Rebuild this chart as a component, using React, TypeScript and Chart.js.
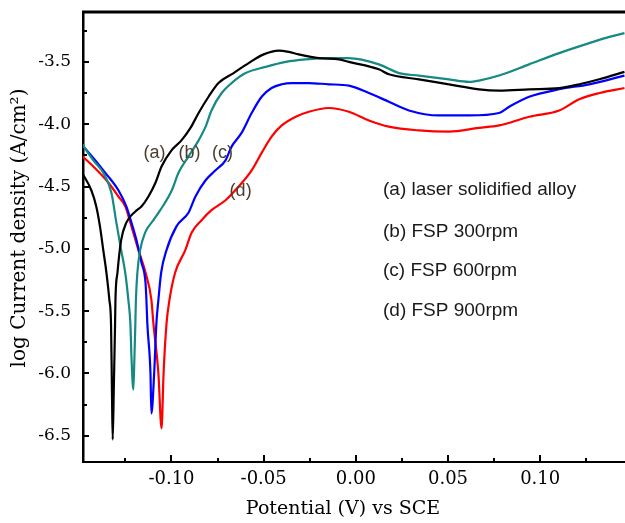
import { useEffect, useRef } from "react";
import { Chart, registerables } from "chart.js";

Chart.register(...registerables);

// (a) laser solidified alloy
const potA = [-0.1489, -0.1435, -0.1408, -0.1388, -0.137, -0.1353, -0.1337, -0.1328, -0.1323, -0.1319, -0.1313, -0.1306, -0.1304, -0.1293, -0.1273, -0.1245, -0.1196, -0.1163, -0.1125, -0.1087, -0.1054, -0.1, -0.0946, -0.0897, -0.0853, -0.0799, -0.0745, -0.0663, -0.0582, -0.05, -0.0418, -0.0364, -0.031, -0.0201, -0.0092, -0.0038, 0.0125, 0.0179, 0.0342, 0.0505, 0.0668, 0.0777, 0.094, 0.1103, 0.1212, 0.1321, 0.1457];
const curA = [-4.38, -4.53, -4.66, -4.82, -5.01, -5.19, -5.41, -5.6, -6.13, -6.53, -6.13, -5.6, -5.41, -5.19, -4.93, -4.79, -4.7, -4.66, -4.58, -4.47, -4.34, -4.21, -4.13, -4.03, -3.91, -3.78, -3.67, -3.59, -3.51, -3.44, -3.41, -3.42, -3.44, -3.47, -3.48, -3.5, -3.56, -3.6, -3.64, -3.68, -3.72, -3.73, -3.72, -3.71, -3.68, -3.64, -3.58];

// (b) FSP 300rpm
const potB = [-0.1489, -0.1424, -0.137, -0.1326, -0.1299, -0.1273, -0.1251, -0.1234, -0.1223, -0.1217, -0.1207, -0.1201, -0.1196, -0.1193, -0.1185, -0.117, -0.1143, -0.1098, -0.1061, -0.0998, -0.0962, -0.0908, -0.0853, -0.0815, -0.0783, -0.0728, -0.0674, -0.0598, -0.0489, -0.038, -0.0272, -0.0147, -0.0038, 0.0125, 0.0234, 0.0342, 0.0505, 0.0614, 0.0668, 0.0777, 0.094, 0.1103, 0.1266, 0.1375, 0.1457];
const curB = [-4.15, -4.29, -4.39, -4.55, -4.79, -5.01, -5.19, -5.41, -5.6, -5.87, -6.13, -5.87, -5.6, -5.41, -5.19, -5.01, -4.87, -4.77, -4.69, -4.53, -4.39, -4.26, -4.13, -4.02, -3.89, -3.75, -3.67, -3.59, -3.54, -3.5, -3.48, -3.47, -3.47, -3.52, -3.59, -3.61, -3.64, -3.66, -3.65, -3.61, -3.52, -3.43, -3.35, -3.3, -3.27];

// (c) FSP 600rpm
const potC = [-0.1495, -0.1413, -0.1359, -0.1288, -0.1245, -0.1217, -0.119, -0.1163, -0.1141, -0.1136, -0.1131, -0.1114, -0.1109, -0.1094, -0.1082, -0.1071, -0.1056, -0.1027, -0.0973, -0.0908, -0.087, -0.0815, -0.0761, -0.0707, -0.0674, -0.062, -0.0565, -0.0511, -0.0457, -0.0402, -0.0348, -0.0255, -0.0147, -0.0038, 0.0071, 0.0179, 0.0288, 0.0451, 0.0614, 0.0777, 0.0832, 0.094, 0.1103, 0.1266, 0.1457];
const curC = [-4.15, -4.29, -4.39, -4.53, -4.66, -4.79, -4.93, -5.11, -5.27, -5.41, -5.6, -6.0, -6.32, -6.0, -5.6, -5.41, -5.19, -5.01, -4.82, -4.71, -4.58, -4.45, -4.37, -4.29, -4.18, -4.07, -3.91, -3.78, -3.71, -3.68, -3.67, -3.67, -3.68, -3.69, -3.75, -3.82, -3.89, -3.93, -3.93, -3.91, -3.86, -3.78, -3.72, -3.68, -3.61];

// (d) FSP 900rpm
const potD = [-0.1489, -0.1424, -0.1342, -0.1288, -0.125, -0.1223, -0.1179, -0.1141, -0.1109, -0.1098, -0.1071, -0.1054, -0.1043, -0.1027, -0.1011, -0.098, -0.0925, -0.0891, -0.0837, -0.0783, -0.0707, -0.0636, -0.0565, -0.0511, -0.0457, -0.0402, -0.0326, -0.0255, -0.0147, -0.0038, 0.0071, 0.0179, 0.0342, 0.0505, 0.0668, 0.0777, 0.094, 0.1103, 0.1212, 0.1321, 0.1457];
const curD = [-4.25, -4.34, -4.47, -4.58, -4.66, -4.79, -5.01, -5.19, -5.41, -5.6, -6.0, -6.44, -6.0, -5.6, -5.41, -5.19, -5.01, -4.87, -4.77, -4.69, -4.61, -4.5, -4.37, -4.23, -4.1, -4.01, -3.94, -3.9, -3.87, -3.9, -3.97, -4.02, -4.05, -4.06, -4.03, -4.01, -3.94, -3.89, -3.8, -3.75, -3.71];

const seriesNames = ["(a) laser solidified alloy", "(b) FSP 300rpm", "(c) FSP 600rpm", "(d) FSP 900rpm"];
const seriesColors = ["#000000", "#158a82", "#0000ff", "#ff0000"];

// curve tags placed in data coordinates
const tagText = ["(a)", "(b)", "(c)", "(d)"];
const tagPot = [-0.1092, -0.0902, -0.0723, -0.0625];
const tagCur = [-4.23, -4.23, -4.23, -4.54];

const xMin = -0.148;
const xMax = 0.146;
const yMin = -6.71;
const yMax = -3.1;
const xTitle = "Potential (V) vs SCE";
const yTitle = "log Current density (A/cm\u00B2)";

const toXY = (xs: number[], ys: number[]) => xs.map((v, i) => ({ x: v, y: ys[i] }));

const overlayPlugin = {
  id: "overlay",
  afterDraw(chart: any) {
    const { ctx, chartArea: ca } = chart;
    const xs = chart.scales.x;
    const ys = chart.scales.y;
    ctx.save();
    // top frame line
    ctx.strokeStyle = "#000";
    ctx.lineWidth = 3;
    ctx.beginPath();
    ctx.moveTo(ca.left - 1, ca.top);
    ctx.lineTo(ca.right, ca.top);
    ctx.stroke();

    // inward ticks
    ctx.lineWidth = 2;
    const xStep = 0.05;
    const yStep = 0.5;
    const xt = xs.ticks.map((t: any) => t.value);
    const yt = ys.ticks.map((t: any) => t.value);
    const drawX = (v: number, len: number) => {
      if (v < xMin || v > xMax) return;
      const p = Math.round(xs.getPixelForValue(v));
      ctx.beginPath();
      ctx.moveTo(p, ca.bottom);
      ctx.lineTo(p, ca.bottom - len);
      ctx.stroke();
    };
    const drawY = (v: number, len: number) => {
      if (v < yMin || v > yMax) return;
      const p = Math.round(ys.getPixelForValue(v));
      ctx.beginPath();
      ctx.moveTo(ca.left, p);
      ctx.lineTo(ca.left + len, p);
      ctx.stroke();
    };
    xt.forEach((v: number) => {
      drawX(v, 7);
      drawX(v - xStep / 2, 4);
    });
    if (xt.length) drawX(xt[xt.length - 1] + xStep / 2, 4);
    yt.forEach((v: number) => {
      drawY(v, 6);
      drawY(v - yStep / 2, 4);
    });
    if (yt.length) drawY(yt[yt.length - 1] + yStep / 2, 4);

    // axis titles
    ctx.fillStyle = "#000";
    ctx.textAlign = "center";
    ctx.textBaseline = "middle";
    ctx.font = "19px 'DejaVu Serif'";
    ctx.fillText(xTitle, 343, 509);
    ctx.save();
    ctx.translate(20, 228);
    ctx.rotate(-Math.PI / 2);
    ctx.font = "20px 'DejaVu Serif'";
    ctx.fillText(yTitle, 0, 0);
    ctx.restore();

    // curve tags
    ctx.font = "18px 'Liberation Sans'";
    ctx.fillStyle = "#4a3e2e";
    tagText.forEach((t, i) => {
      ctx.fillText(t, xs.getPixelForValue(tagPot[i]), ys.getPixelForValue(tagCur[i]));
    });

    // text legend
    ctx.font = "19px 'Liberation Sans'";
    ctx.fillStyle = "#1a1a1a";
    ctx.textAlign = "left";
    const legendTop = [190, 232, 271, 311];
    seriesNames.forEach((n, i) => {
      ctx.fillText(n, 383, legendTop[i]);
    });
    ctx.restore();
  },
};

export default function App() {
  const ref = useRef<HTMLCanvasElement>(null);
  useEffect(() => {
    if (!ref.current) return;
    const pairs = [
      [potA, curA],
      [potB, curB],
      [potC, curC],
      [potD, curD],
    ];
    const chart = new Chart(ref.current, {
      type: "line",
      data: {
        datasets: pairs.map((p, i) => ({
          label: seriesNames[i],
          data: toXY(p[0], p[1]),
          borderColor: seriesColors[i],
          backgroundColor: seriesColors[i],
          borderWidth: 2.2,
          pointRadius: 0,
          fill: false,
          cubicInterpolationMode: "monotone" as const,
        })),
      },
      options: {
        responsive: false,
        animation: false,
        devicePixelRatio: 1,
        layout: { padding: { top: 12, right: 0, left: 0, bottom: 0 } },
        plugins: { legend: { display: false }, tooltip: { enabled: false }, title: { display: false } },
        scales: {
          x: {
            type: "linear",
            min: xMin,
            max: xMax,
            grid: { display: true, drawOnChartArea: false, drawTicks: false },
            border: { display: true, color: "#000", width: 2 },
            ticks: {
              stepSize: 0.05,
              includeBounds: false,
              padding: 7,
              color: "#000",
              font: { family: "'DejaVu Serif'", size: 18 },
              callback: (v: any) => (Math.abs(v) < 1e-9 ? "0.00" : Number(v).toFixed(2)),
              maxRotation: 0,
              autoSkip: false,
            },
            afterFit: (s: any) => {
              s.height = 61;
              s.paddingLeft = 0;
              s.paddingRight = 0;
            },
          },
          y: {
            type: "linear",
            min: yMin,
            max: yMax,
            grid: { display: true, drawOnChartArea: false, drawTicks: false },
            border: { display: true, color: "#000", width: 2.5 },
            ticks: {
              stepSize: 0.5,
              includeBounds: false,
              padding: 12,
              color: "#000",
              font: { family: "'DejaVu Serif'", size: 17 },
              callback: (v: any) => Number(v).toFixed(1),
              autoSkip: false,
            },
            afterFit: (s: any) => {
              s.width = 83;
              s.paddingTop = 0;
              s.paddingBottom = 0;
            },
          },
        },
      },
      plugins: [overlayPlugin],
    });
    return () => chart.destroy();
  }, []);
  return (
    <div style={{ position: "absolute", left: 0, top: 0, width: 625, height: 523, background: "#fff" }}>
      <canvas ref={ref} width={625} height={523} />
    </div>
  );
}
